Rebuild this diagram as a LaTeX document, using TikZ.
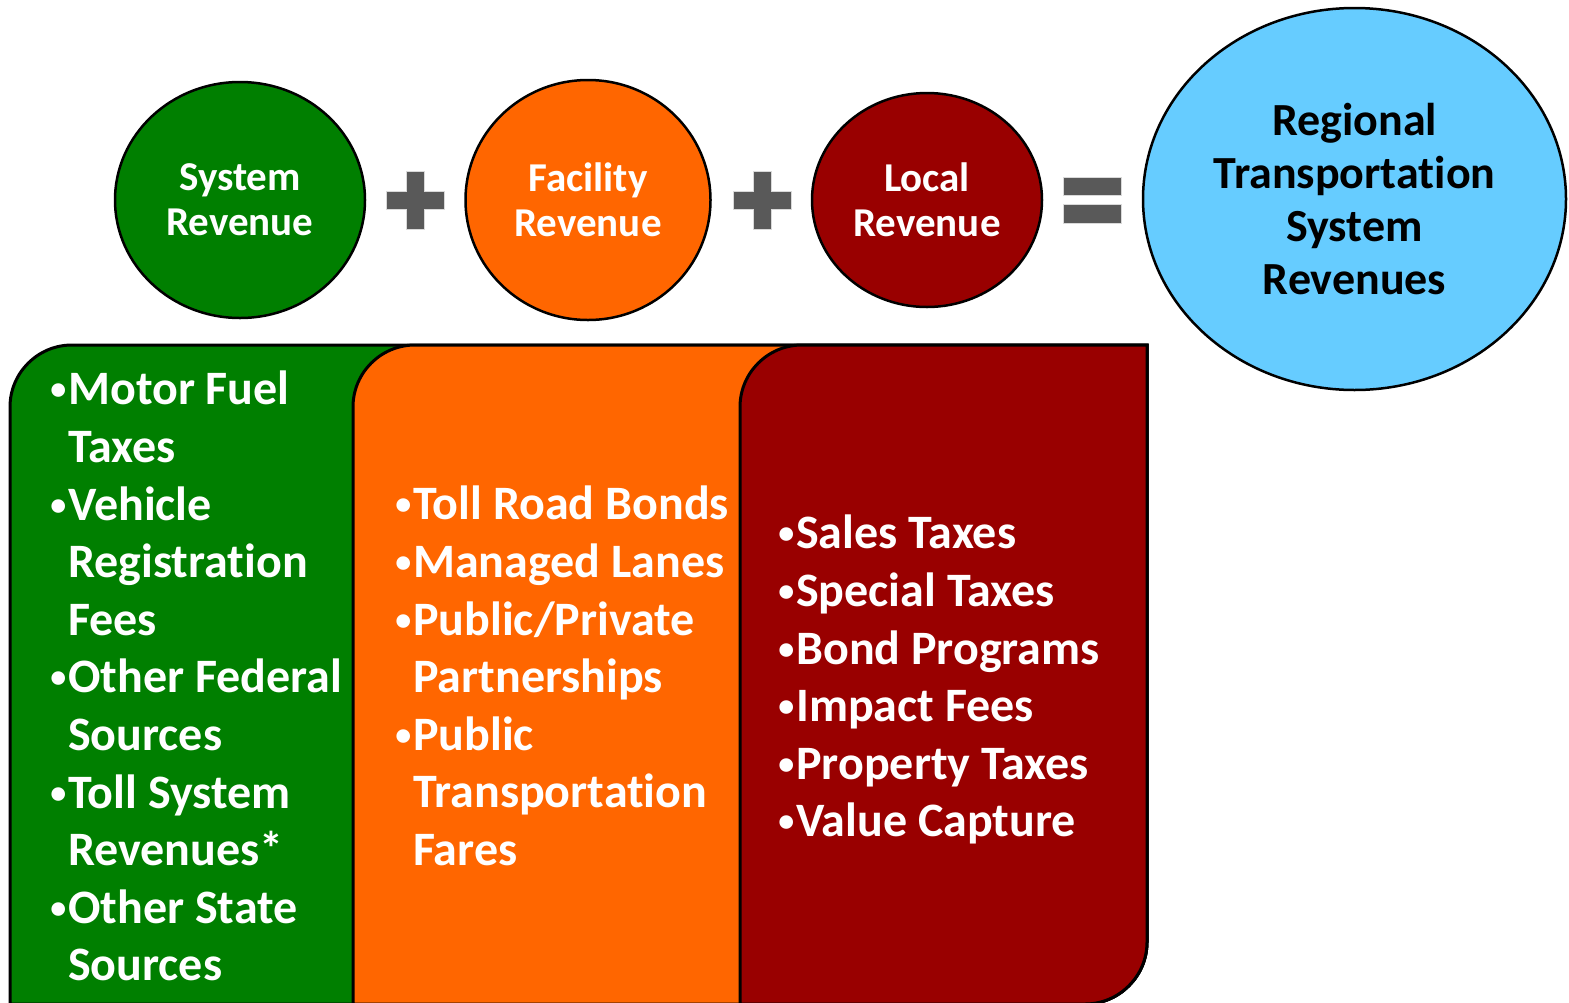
\documentclass[tikz,border=0pt]{standalone}
\usepackage{fontspec}
\setmainfont{Carlito}[Ligatures=CommonOff]
\usetikzlibrary{shapes.geometric}
\definecolor{cgreen}{HTML}{007F00}
\definecolor{corange}{HTML}{FF6600}
\definecolor{cred}{HTML}{990000}
\definecolor{cblue}{HTML}{66CCFF}
\definecolor{cgrey}{HTML}{595959}
\tikzset{
  every picture/.style={line width=2.5pt},
  bubble/.style={ellipse, draw=black, fill=#1, text=white, align=center, inner sep=0pt, font=\bfseries\fontsize{41}{45}\selectfont},
  panel/.style={draw=black, fill=#1, line width=3pt},
  items/.style={anchor=north west, inner sep=0pt, align=left, text=white, font=\bfseries\fontsize{48}{57.6}\selectfont},
  sign/.style={fill=cgrey, draw=black!15, line width=0.8pt},
}
\newcommand{\itm}[1]{\makebox[18pt][l]{\raisebox{5pt}{\fontsize{32}{32}\selectfont •}}#1}
\newcommand{\cnt}[1]{\hspace*{18pt}#1}
\begin{document}
\begin{tikzpicture}[x=1pt, y=-1pt]
  \useasboundingbox (0,0) rectangle (1569,1002);
  \newcommand{\revpanel}[2]{\filldraw[panel=#2] (#1,1004) -- (#1,407) arc[start angle=180, end angle=270, radius=62] -- (1147,345) -- (1147,942) arc[start angle=0, end angle=90, radius=62] -- cycle;}
  \newcommand{\plussign}[2]{\filldraw[sign] (#1-9,#2-29) -- ++(18,0) -- ++(0,20) -- ++(20,0) -- ++(0,18) -- ++(-20,0) -- ++(0,20) -- ++(-18,0) -- ++(0,-20) -- ++(-20,0) -- ++(0,-18) -- ++(20,0) -- cycle;}
  % revenue bubbles
  \node[bubble=cgreen, minimum width=250pt, minimum height=236pt] (sys) at (240,200) {System\\Revenue};
  \node[bubble=corange, minimum width=245pt, minimum height=240pt] (fac) at (588,200) {Facility\\Revenue};
  \node[bubble=cred, minimum width=230pt, minimum height=214pt] (loc) at (927,200) {Local\\Revenue};
  \node[bubble=cblue, text=black, minimum width=423pt, minimum height=382pt, font=\bfseries\fontsize{46}{53}\selectfont] (reg) at (1354.5,199) {Regional\\Transportation\\System\\Revenues};
  % plus and equals signs
  \plussign{415}{200}
  \plussign{762}{200}
  \filldraw[sign] (1063,177) rectangle (1121,195);
  \filldraw[sign] (1063,204) rectangle (1121,223);
  % source panels
  \revpanel{10}{cgreen}
  \revpanel{353}{corange}
  \revpanel{740}{cred}
  \node[items] (sysl) at (49,370) {\itm{Motor Fuel}\\\cnt{Taxes}\\\itm{Vehicle}\\\cnt{Registration}\\\cnt{Fees}\\\itm{Other Federal}\\\cnt{Sources}\\\itm{Toll System}\\\cnt{Revenues*}\\\itm{Other State}\\\cnt{Sources}};
  \node[items] (facl) at (394,485) {\itm{Toll Road Bonds}\\\itm{Managed Lanes}\\\itm{Public/Private}\\\cnt{Partnerships}\\\itm{Public}\\\cnt{Transportation}\\\cnt{Fares}};
  \node[items] (locl) at (777,514) {\itm{Sales Taxes}\\\itm{Special Taxes}\\\itm{Bond Programs}\\\itm{Impact Fees}\\\itm{Property Taxes}\\\itm{Value Capture}};
\end{tikzpicture}
\end{document}
